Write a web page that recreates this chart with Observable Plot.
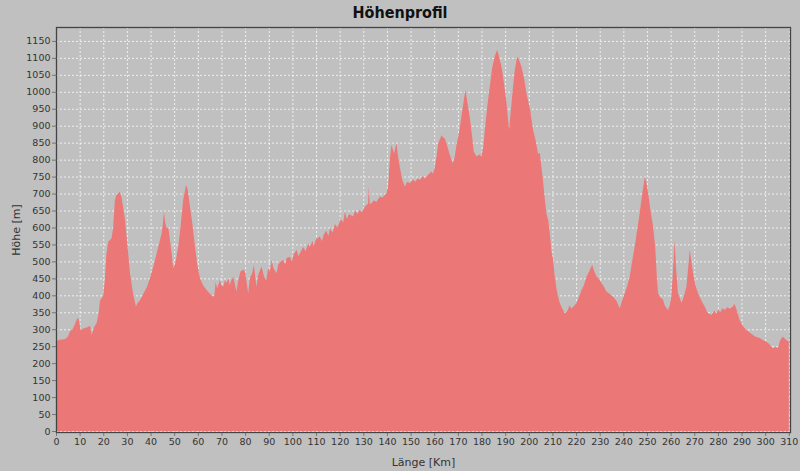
<!DOCTYPE html>
<html>
<head>
<meta charset="utf-8">
<script src="https://cdn.jsdelivr.net/npm/d3@7"></script>
<script src="https://cdn.jsdelivr.net/npm/@observablehq/plot@0.6"></script>
<style>
  html, body { margin: 0; padding: 0; background: #c0c0c0; }
  #title { height: 26px; line-height: 26px; text-align: center; font-family: "DejaVu Sans Condensed", "DejaVu Sans", sans-serif; font-weight: bold; font-size: 16px; color: #111; }
  #chart svg { display: block; }
</style>
</head>
<body>
<div id="title">Höhenprofil</div>
<div id="chart"></div>
<script>
const titleText = "Höhenprofil";
const xLabel = "Länge [Km]";
const yLabel = "Höhe [m]";
const xTicks = [0,10,20,30,40,50,60,70,80,90,100,110,120,130,140,150,160,170,180,190,200,210,220,230,240,250,260,270,280,290,300,310];
const yTicks = [0,50,100,150,200,250,300,350,400,450,500,550,600,650,700,750,800,850,900,950,1000,1050,1100,1150];

const km = [0,1,2,3,4,5,6,7,8,9,9.6,10.4,11.5,13,14.4,15.1,16,17.2,18,18.6,19.3,20,20.6,21.3,22.1,23.5,24.2,24.9,25.5,26.3,27,27.7,28.4,29.2,30.2,31.3,32.5,33.8,34.6,35.5,37,38.5,39.7,41,42.6,43.7,44.7,45.2,45.7,46.2,46.8,47.5,48.2,49,49.6,50.5,51.7,52.8,53.8,55,55.6,56.7,57.7,58.8,59.8,60.9,62.2,63.7,65,66.5,67,67.5,68.2,69.3,70.1,70.7,71.5,72.1,73,73.5,74.2,75,76.3,77,78,79.2,80,81.3,82,83,83.7,84.8,85.5,86.9,87.5,88,89,89.7,90.5,91.2,92,93.3,94,95,96.1,97,97.5,98.9,99.8,100.5,101.8,102.5,103.2,104.6,105.5,106.7,107.4,108.5,109,110,111.6,112.5,113.3,114.4,115.2,115.9,117,118,119,120.5,121.5,122.2,123,124,125.7,126.5,127.5,128.5,129.5,130.5,131.4,132,132.3,132.7,133.4,134.5,135.5,137,138,139,139.8,140.5,141.2,141.9,142.5,143,144,144.7,145.4,146.5,147.6,148.5,149.7,151,152,153,153.9,155,156,156.8,158,158.9,159.5,160.3,161,161.7,162.4,163.1,163.8,164.5,165.5,166.4,167.8,168.6,169.4,170.5,171.5,172.5,173.2,174,175,176,176.7,177.9,179,180,180.8,181.4,182.5,183.5,184.5,185.6,186.6,187.2,187.7,188.3,189.1,189.8,190.6,191.2,191.7,192.2,192.7,193.4,194.1,195.1,195.8,196.9,198,199,200.5,201.8,202.8,203.9,204.7,205.3,206,206.8,207.5,208.2,208.9,209.6,210.3,211,211.7,212.4,213.1,214.2,215.2,216.2,217.3,218,219,220.2,221.2,222.3,223.3,224.4,225.5,226.8,227.7,228.7,229.7,230.7,231.8,232.8,234,235.6,237,238.5,239.5,240.6,241.7,242.7,243.7,244.8,245.8,246.9,248,249.1,249.8,250.5,251.5,252.6,253.5,254.2,254.7,255.5,256.8,257.5,258.9,259.6,260.3,261,261.7,262.3,263.1,264,264.6,265.5,266.7,267.4,268.1,268.8,269.5,270.5,271.6,273,274.4,275.5,276.5,277.2,278.5,279.2,280.1,281,282,282.9,284,285,286.4,287,288,289.2,290.5,292,293.5,294.8,296,297.7,299,300.5,301.5,302.5,303.3,304.5,305.4,306.2,306.8,307.5,308.9,310];

const elev = [263,268,270,270,272,278,295,300,315,332,330,298,302,305,310,283,305,318,345,385,391,400,440,520,558,568,600,681,695,701,705,690,660,622,550,465,410,367,378,385,405,425,450,480,524,555,583,610,647,615,598,600,563,520,480,495,543,610,681,725,715,661,610,543,490,450,430,416,405,396,400,440,420,445,428,425,445,436,450,430,445,455,411,440,470,475,470,407,450,465,490,425,460,485,470,455,445,480,470,504,480,465,490,500,504,490,510,514,500,520,534,515,524,543,530,553,543,560,545,565,573,560,580,590,575,598,585,610,600,625,615,647,625,640,632,650,640,652,645,660,666,670,720,670,671,680,675,691,688,695,701,720,800,843,830,818,848,810,780,740,720,735,730,742,735,745,740,752,745,750,760,765,758,779,810,848,860,872,865,862,840,818,789,805,843,880,927,975,1006,970,927,870,824,809,815,809,840,888,960,1015,1070,1104,1124,1110,1094,1080,1045,1010,966,920,888,930,966,1020,1065,1104,1095,1074,1040,996,950,888,860,818,819,780,740,681,640,622,583,530,504,455,420,396,377,360,347,352,371,360,368,377,395,416,430,455,470,490,470,455,448,436,425,411,405,396,385,362,385,406,430,455,500,543,590,642,700,750,730,701,650,602,540,450,406,395,387,370,357,370,396,470,563,480,406,390,377,395,426,480,534,500,465,430,406,385,367,350,345,342,355,345,357,350,362,357,365,360,367,375,355,327,310,298,290,283,278,274,268,263,258,250,244,248,244,265,273,278,268,263];

const data = km.map((k, i) => ({km: k, elev: elev[i]}));

const font = "DejaVu Sans, sans-serif";
const chart = Plot.plot({
  width: 800,
  height: 445,
  marginTop: 1,
  marginLeft: 56,
  marginRight: 10,
  marginBottom: 39,
  style: {background: "transparent", fontFamily: font, fontSize: "9px", color: "#333"},
  x: {domain: [0, 310.5]},
  y: {domain: [-3, 1191]},
  marks: [
    Plot.gridX(xTicks, {stroke: "#ffffff", strokeOpacity: 0.75, strokeDasharray: "2,2"}),
    Plot.gridY(yTicks, {stroke: "#ffffff", strokeOpacity: 0.75, strokeDasharray: "2,2"}),
    Plot.areaY(data, {x: "km", y: "elev", fill: "#ec7777", curve: "linear"}),
    Plot.axisX(xTicks, {tickSize: 4, tickPadding: 2, stroke: "#777", fill: "#333", fontSize: 9.5,
      tickFormat: d => String(d),
      label: xLabel, labelAnchor: "center", labelArrow: "none", labelOffset: 33}),
    Plot.axisY(yTicks, {tickSize: 4, tickPadding: 2, stroke: "#777", fill: "#333", fontSize: 9.5,
      tickFormat: d => String(d),
      label: yLabel, labelAnchor: "center", labelArrow: "none", labelOffset: 44}),
    Plot.frame({stroke: "#444", strokeWidth: 1.3})
  ]
});
chart.querySelectorAll("g[aria-label='x-axis label'] text, g[aria-label='y-axis label'] text").forEach(t => t.setAttribute("font-size", "11px"));
document.getElementById("chart").appendChild(chart);
document.getElementById("title").textContent = titleText;
</script>
</body>
</html>
